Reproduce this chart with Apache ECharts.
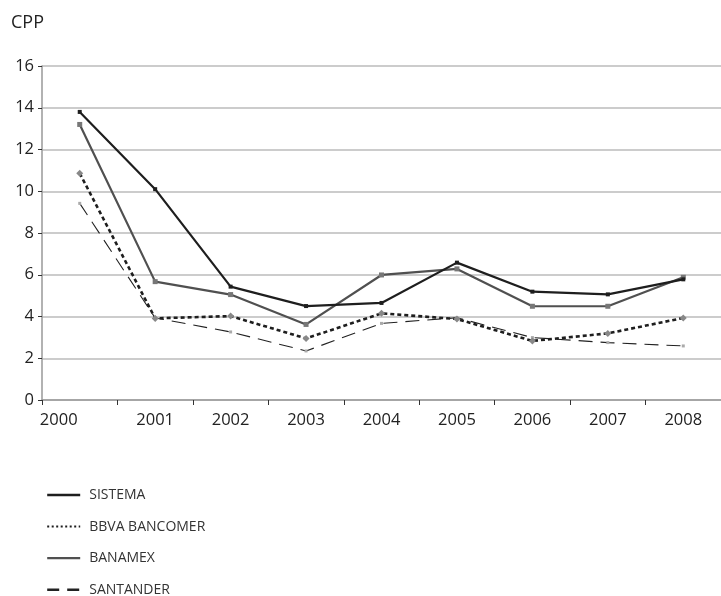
<!DOCTYPE html>
<html><head><meta charset="utf-8">
<script src="https://cdn.jsdelivr.net/npm/echarts@6/dist/echarts.min.js"></script>
<style>html,body{margin:0;padding:0;background:#fff}#c{width:721px;height:596px}</style>
</head><body><div id="c"></div>
<script>
var years = ['2000','2001','2002','2003','2004','2005','2006','2007','2008'];
var sistema = [13.8, 10.1, 5.43, 4.5, 4.65, 6.58, 5.19, 5.06, 5.78];
var bbva = [10.86, 3.91, 4.02, 2.95, 4.15, 3.88, 2.83, 3.19, 3.93];
var banamex = [13.2, 5.67, 5.05, 3.62, 5.99, 6.28, 4.49, 4.49, 5.88];
var santander = [9.42, 3.93, 3.26, 2.35, 3.67, 3.94, 2.99, 2.75, 2.59];
var yTicks = [0, 2, 4, 6, 8, 10, 12, 14, 16];

var font = '"Open Sans", Lato, sans-serif';
var chart = echarts.init(document.getElementById('c'));
chart.setOption({
  animation: false,
  title: { text: 'CPP', left: 6, top: 9, textStyle: { fontFamily: font, fontSize: 18, fontWeight: 'normal', color: '#222' } },
  grid: { left: 42, right: -2, top: 66, bottom: 196 },
  legend: {
    orient: 'vertical', left: 41, top: 483, height: 112, itemWidth: 33, itemHeight: 14, itemGap: 17.6,
    textStyle: { fontFamily: font, fontSize: 14, color: '#333', padding: [0, 0, 0, 4] },
    itemStyle: { color: 'transparent', borderColor: 'transparent', borderWidth: 0 },
    data: [
      { name: 'SISTEMA', lineStyle: { color: '#1e1e1e', width: 2.4 } },
      { name: 'BBVA BANCOMER', lineStyle: { color: '#1e1e1e', width: 2, type: [2, 2.5] } },
      { name: 'BANAMEX', lineStyle: { color: '#505050', width: 2.2 } },
      { name: 'SANTANDER', lineStyle: { color: '#222', width: 2.4, type: [12, 8] } }
    ]
  },
  xAxis: {
    type: 'category', boundaryGap: true,
    data: years.map(function (y, i) { return i === 0 ? { value: y, textStyle: { padding: [0, 42, 0, 0] } } : y; }),
    axisLine: { lineStyle: { color: '#999', width: 1.5 } },
    axisTick: { show: true, length: 5, lineStyle: { color: '#333' } },
    axisLabel: { fontFamily: font, fontSize: 16.5, color: '#222', margin: 12 }
  },
  yAxis: {
    type: 'value', min: yTicks[0], max: yTicks[yTicks.length - 1], interval: 2,
    axisLine: { show: true, lineStyle: { color: '#999', width: 1.5 } },
    axisTick: { show: true, length: 4, lineStyle: { color: '#333' } },
    splitLine: { lineStyle: { color: '#bbb', width: 1.5 } },
    axisLabel: { fontFamily: font, fontSize: 16.5, color: '#222', margin: 8 }
  },
  series: [
    { name: 'SISTEMA', type: 'line', data: sistema, symbol: 'rect', symbolSize: 4,
      lineStyle: { color: '#1e1e1e', width: 2.2 }, itemStyle: { color: '#1e1e1e' }, z: 5 },
    { name: 'BBVA BANCOMER', type: 'line', data: bbva, symbol: 'diamond', symbolSize: 7,
      lineStyle: { color: '#1e1e1e', width: 2.6, type: [4, 3] }, itemStyle: { color: '#888' }, z: 4 },
    { name: 'BANAMEX', type: 'line', data: banamex, symbol: 'rect', symbolSize: 5,
      lineStyle: { color: '#505050', width: 2.2 }, itemStyle: { color: '#777' }, z: 3 },
    { name: 'SANTANDER', type: 'line', data: santander, symbol: 'rect', symbolSize: 3,
      lineStyle: { color: '#222', width: 1.1, type: [14, 8] }, itemStyle: { color: '#aaa' }, z: 2 }
  ]
});
</script></body></html>
